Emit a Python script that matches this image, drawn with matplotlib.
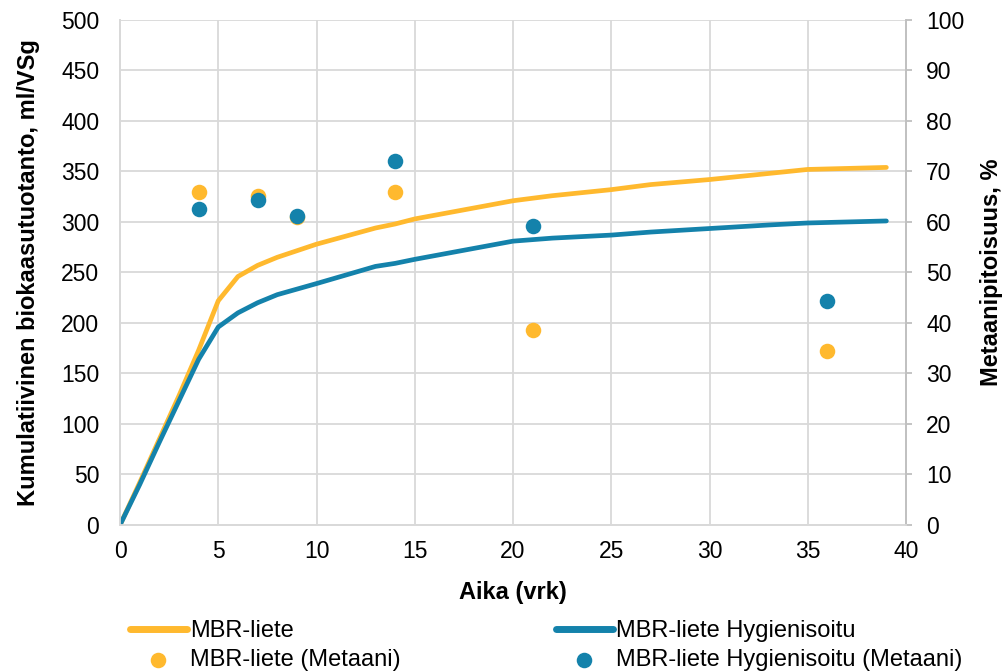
import numpy as np
import matplotlib
matplotlib.use('Agg')
import matplotlib.pyplot as plt

plt.rcParams['font.family'] = ['Liberation Sans', 'DejaVu Sans']

# kumulatiivinen biokaasutuotanto, ml/VSg
days = [0, 1, 2, 3, 4, 5, 6, 7, 8, 10, 13, 14, 15, 20, 22, 25, 27, 30, 33, 34, 35, 39]
mbr = [0, 42, 85, 128, 173, 222, 246, 257, 265, 278, 294, 298, 303, 321, 326, 332, 337, 342, 348, 350, 352, 354]
mbr_hyg = [0, 40, 82, 123, 164, 196, 210, 220, 228, 239, 256, 259, 263, 281, 284, 287, 290, 293.5, 297, 298, 299, 301]

# metaanipitoisuus, %
ch4_days = [4, 7, 9, 14, 21, 36]
ch4_mbr = [66.0, 65.2, 61.0, 66.0, 38.7, 34.5]
ch4_hyg = [62.5, 64.3, 61.2, 72.0, 59.2, 44.4]

yellow = '#FFB92E'
blue = '#1482AB'
grid_col = '#D9D9D9'
fs_tick = 16.5
fs = 17

fig = plt.figure(figsize=(10.02, 6.72), dpi=100)
ax = fig.add_axes([0.1198, 0.2188, 0.7844, 0.7515])
ax2 = ax.twinx()

l1, = ax.plot(days, mbr, color=yellow, lw=3.4, solid_capstyle='round', zorder=3)
l2, = ax.plot(days, mbr_hyg, color=blue, lw=3.4, solid_capstyle='round', zorder=3)
s1 = ax2.scatter(ch4_days, ch4_mbr, s=125, color=yellow, zorder=3, linewidths=0)
s2 = ax2.scatter(ch4_days, ch4_hyg, s=125, color=blue, zorder=4, linewidths=0)

ax.set_xlim(0, 40)
ax.set_ylim(0, 500)
ax2.set_ylim(0, 100)
ax.set_xticks(range(0, 41, 5))
ax.set_yticks(range(0, 501, 50))
ax2.set_yticks(range(0, 101, 10))
ax.grid(True, color=grid_col, lw=1.3)
ax.set_axisbelow(True)

ax.tick_params(axis='x', length=0, labelsize=fs_tick, pad=11)
ax.tick_params(axis='y', length=0, labelsize=fs_tick, pad=15)
ax2.tick_params(axis='y', length=4.5, width=1.3, color='#BFBFBF', labelsize=fs_tick, pad=10)

for a in (ax, ax2):
    for sp in a.spines.values():
        sp.set_color(grid_col)
        sp.set_linewidth(1.3)
    a.spines['top'].set_visible(False)
ax2.spines['right'].set_color('#BFBFBF')

ax.set_xlabel('Aika (vrk)', fontsize=fs, fontweight='bold')
ax.set_ylabel('Kumulatiivinen biokaasutuotanto, ml/VSg', fontsize=fs, fontweight='bold')
ax2.set_ylabel('Metaanipitoisuus, %', fontsize=fs, fontweight='bold')
ax.xaxis.set_label_coords(0.5, -0.11)
ax.yaxis.set_label_coords(-0.102, 0.5)
ax2.yaxis.set_label_coords(1.094, 0.5)

leg_kw = dict(loc='upper left', frameon=False, fontsize=fs, handlelength=2.4,
              handletextpad=0.15, labelspacing=0.3, borderaxespad=0, borderpad=0)
leg1 = fig.legend([l1, s1], ['MBR-liete', 'MBR-liete (Metaani)'],
                  bbox_to_anchor=(130 / 1002, 1 - 620 / 672), **leg_kw)
leg2 = fig.legend([l2, s2], ['MBR-liete Hygienisoitu', 'MBR-liete Hygienisoitu (Metaani)'],
                  bbox_to_anchor=(556 / 1002, 1 - 620 / 672), **leg_kw)
for lg in (leg1, leg2):
    lg.legend_handles[0].set_linewidth(5)

fig.savefig('out.png', dpi=100)
